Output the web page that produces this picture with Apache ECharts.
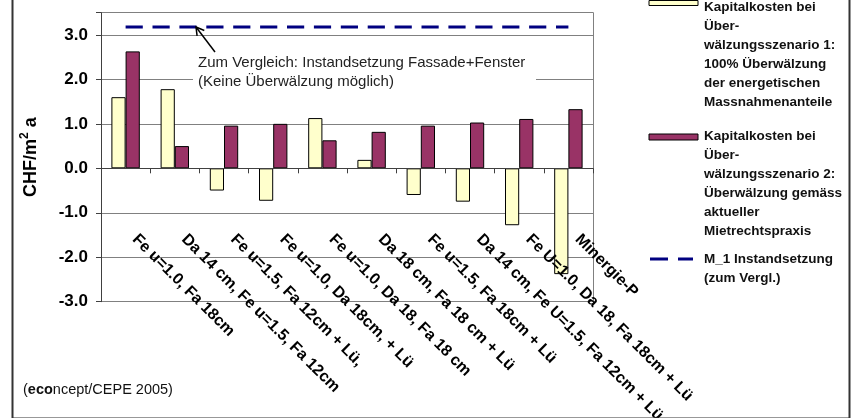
<!DOCTYPE html>
<html>
<head>
<meta charset="utf-8">
<script src="https://cdn.jsdelivr.net/npm/echarts@6/dist/echarts.min.js"></script>
<style>
  html, body { margin: 0; padding: 0; background: #ffffff; }
  #chart { width: 852px; height: 418px; }
</style>
</head>
<body>
<div id="chart"></div>
<script>
// Massnahmenpakete (x-axis categories)
const categories = [
  'Fe u=1.0, Fa 18cm',
  'Da 14 cm, Fe u=1.5, Fa 12cm',
  'Fe u=1.5, Fa 12cm + Lü,',
  'Fe u=1.0, Da 18cm, + Lü',
  'Fe u=1.0, Da 18, Fa 18 cm',
  'Da 18 cm, Fa 18 cm + Lü',
  'Fe u=1.5, Fa 18cm + Lü',
  'Da 14 cm, Fe U=1.5, Fa 12cm + Lü',
  'Fe U=1.0, Da 18, Fa 18cm + Lü',
  'Minergie-P'
];

// Kapitalkosten in CHF/m2 a
const scenario1 = [1.60, 1.78, -0.50, -0.73, 1.13, 0.19, -0.60, -0.75, -1.28, -2.38];
const scenario2 = [2.63, 0.50, 0.96, 1.00, 0.63, 0.82, 0.96, 1.03, 1.11, 1.33];
const instandsetzung = 3.18;

// y-axis range
const yMin = -3;
const yMax = 3.5;
const yStep = 1;

// legend and annotation texts
const legendScenario1 = ['Kapitalkosten bei', 'Über-', 'wälzungsszenario 1:', '100% Überwälzung', 'der energetischen', 'Massnahmenanteile'];
const legendScenario2 = ['Kapitalkosten bei', 'Über-', 'wälzungsszenario 2:', 'Überwälzung gemäss', 'aktueller', 'Mietrechtspraxis'];
const legendReference = ['M_1 Instandsetzung', '(zum Vergl.)'];
const noteLines = ['Zum Vergleich: Instandsetzung Fassade+Fenster', '(Keine Überwälzung möglich)'];

const FONT = '"Liberation Sans", Arial, Helvetica, sans-serif';
const YELLOW = '#FFFFCC';
const PURPLE = '#993366';
const NAVY = '#000080';

const chart = echarts.init(document.getElementById('chart'), null, { renderer: 'canvas' });

const referenceLine = categories.map(() => instandsetzung);

const legendTextStyle = { font: 'bold 13.5px ' + FONT, fill: '#111', lineHeight: 19 };

const option = {
  animation: false,
  backgroundColor: '#ffffff',
  grid: { left: 101, right: 259, top: 12.7, bottom: 116.3, containLabel: false, outerBoundsMode: 'none' },
  xAxis: {
    type: 'category',
    data: categories,
    z: 5,
    boundaryGap: true,
    axisLine: { onZero: true, lineStyle: { color: '#404040', width: 1 } },
    axisTick: { show: true, length: 5, lineStyle: { color: '#404040' } },
    axisLabel: {
      interval: 0,
      rotate: -45,
      margin: -74,
      padding: [0, 0, 0, 13],
      color: '#000',
      fontFamily: FONT,
      fontWeight: 'bold',
      fontSize: 16
    },
    splitLine: { show: false }
  },
  yAxis: [{
    type: 'value',
    min: yMin,
    max: yMax,
    interval: yStep,
    position: 'left',
    name: '{b|CHF/m}{s|2}{b| a}',
    nameLocation: 'middle',
    nameRotate: 90,
    nameGap: 58,
    nameTextStyle: {
      rich: {
        b: { fontFamily: FONT, fontWeight: 'bold', fontSize: 18, lineHeight: 24, color: '#000' },
        s: { fontFamily: FONT, fontWeight: 'bold', fontSize: 12, lineHeight: 12, verticalAlign: 'top', color: '#000' }
      }
    },
    axisLine: { show: true, lineStyle: { color: '#404040', width: 1 } },
    axisTick: { show: true, length: 5, lineStyle: { color: '#404040' } },
    axisLabel: {
      margin: 13,
      color: '#000',
      fontFamily: FONT,
      fontWeight: 'bold',
      fontSize: 17,
      formatter: v => (v > 3.01 ? '' : v.toFixed(1))
    },
    splitLine: { show: true, lineStyle: { color: '#808080', width: 1 } }
  }, {
    type: 'value',
    min: yMin,
    max: yMax,
    interval: yStep,
    position: 'right',
    axisLine: { show: true, lineStyle: { color: '#808080', width: 1 } },
    axisTick: { show: false },
    axisLabel: { show: false },
    splitLine: { show: false }
  }],
  series: [
    {
      name: legendScenario1.join(' '),
      type: 'bar',
      data: scenario1,
      barWidth: 14.2,
      barGap: '0%',
      itemStyle: { color: YELLOW, borderColor: '#000', borderWidth: 1 }
    },
    {
      name: legendScenario2.join(' '),
      type: 'bar',
      data: scenario2,
      barWidth: 14.2,
      barGap: '0%',
      itemStyle: { color: PURPLE, borderColor: '#000', borderWidth: 1 }
    },
    {
      name: legendReference.join(' '),
      type: 'line',
      data: referenceLine,
      symbol: 'none',
      z: 4,
      lineStyle: { color: NAVY, width: 3, type: [17.2, 9.7] }
    }
  ],
  graphic: [
    // outer frame
    {
      type: 'rect', left: 10, top: -6, z: 50, silent: true,
      shape: { x: 0, y: 0, width: 837, height: 422 },
      style: { fill: 'none', stroke: '#333', lineWidth: 2 }
    },
    // annotation box
    {
      type: 'rect', x: 193, y: 54, z: 60, silent: true,
      shape: { x: 0, y: 0, width: 343, height: 38 },
      style: { fill: '#ffffff' }
    },
    {
      type: 'text', x: 198, y: 53.8, z: 61, silent: true,
      style: { text: noteLines.join('\n'), font: '15px ' + FONT, fill: '#222', lineHeight: 19, verticalAlign: 'top' }
    },
    // arrow pointing to the reference line
    {
      type: 'polyline', z: 61, silent: true,
      shape: { points: [[215, 52], [196, 27]] },
      style: { stroke: '#000', lineWidth: 1.5, fill: 'none' }
    },
    {
      type: 'polyline', z: 61, silent: true,
      shape: { points: [[197.1, 35.9], [196, 27], [204.3, 30.5]] },
      style: { stroke: '#000', lineWidth: 1.5, fill: 'none' }
    },
    // legend
    {
      type: 'rect', x: 649, y: 0.5, z: 60, silent: true,
      shape: { x: 0, y: 0, width: 49, height: 5 },
      style: { fill: YELLOW, stroke: '#000', lineWidth: 1 }
    },
    {
      type: 'text', x: 704, y: -2.2, z: 60, silent: true,
      style: Object.assign({ text: legendScenario1.join('\n'), verticalAlign: 'top' }, legendTextStyle)
    },
    {
      type: 'rect', x: 649, y: 134, z: 60, silent: true,
      shape: { x: 0, y: 0, width: 49, height: 6 },
      style: { fill: PURPLE, stroke: '#000', lineWidth: 1 }
    },
    {
      type: 'text', x: 704, y: 127.2, z: 60, silent: true,
      style: Object.assign({ text: legendScenario2.join('\n'), verticalAlign: 'top' }, legendTextStyle)
    },
    {
      type: 'polyline', z: 60, silent: true,
      shape: { points: [[650, 259], [693, 259]] },
      style: { stroke: NAVY, lineWidth: 3, lineDash: [18, 10], fill: 'none' }
    },
    {
      type: 'text', x: 704, y: 249.5, z: 60, silent: true,
      style: Object.assign({ text: legendReference.join('\n'), verticalAlign: 'top' }, legendTextStyle)
    },
    // source
    {
      type: 'text', x: 23, y: 390, z: 60, silent: true,
      style: {
        text: '({b|eco}ncept/CEPE 2005)',
        font: '14.5px ' + FONT,
        fill: '#111',
        verticalAlign: 'middle',
        rich: { b: { fontFamily: FONT, fontWeight: 'bold', fontSize: 14.5, fill: '#111' } }
      }
    }
  ]
};

chart.setOption(option);
</script>
</body>
</html>
